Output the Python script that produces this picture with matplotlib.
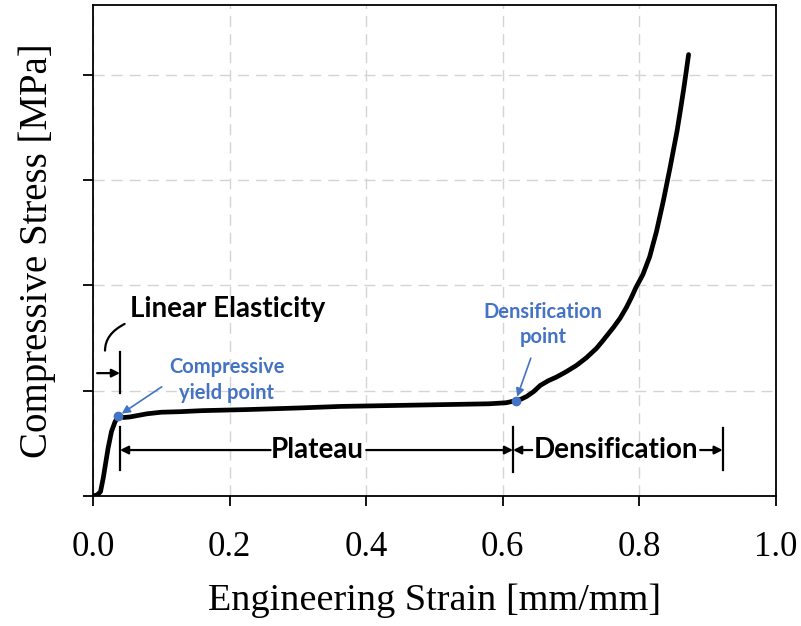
import matplotlib
matplotlib.use("Agg")
import matplotlib.pyplot as plt

# Stress-strain curve of a cellular material under compression
strain = [0.000, 0.006, 0.011, 0.015, 0.018, 0.022, 0.027, 0.032, 0.037, 0.045,
          0.054, 0.079, 0.100, 0.127, 0.160, 0.225, 0.300, 0.362, 0.450, 0.537,
          0.580, 0.605, 0.619, 0.627, 0.635, 0.645, 0.655, 0.667, 0.679, 0.693,
          0.708, 0.722, 0.737, 0.746, 0.762, 0.772, 0.781, 0.788, 0.795, 0.805,
          0.815, 0.825, 0.835, 0.845, 0.855, 0.860, 0.865, 0.869, 0.872]
stress = [0.00, 0.01, 0.04, 0.17, 0.29, 0.45, 0.61, 0.70, 0.76, 0.745,
          0.75, 0.78, 0.795, 0.80, 0.81, 0.82, 0.835, 0.85, 0.86, 0.87,
          0.875, 0.885, 0.905, 0.92, 0.945, 0.99, 1.05, 1.095, 1.13, 1.18,
          1.24, 1.31, 1.40, 1.47, 1.60, 1.69, 1.79, 1.88, 1.98, 2.10,
          2.27, 2.51, 2.80, 3.12, 3.46, 3.66, 3.87, 4.05, 4.19]

yield_pt = (0.037, 0.76)
dens_pt = (0.619, 0.905)

x_ticks = [0.0, 0.2, 0.4, 0.6, 0.8, 1.0]
x_tick_labels = ["0.0", "0.2", "0.4", "0.6", "0.8", "1.0"]
y_ticks = [0, 1, 2, 3, 4]

# region boundaries (strain)
elastic_end = 0.0395
plateau_end = 0.615
dens_end = 0.922

BLUE = "#4472C4"
SERIF = "Liberation Serif"
SANS = "Lato"

fig = plt.figure(figsize=(8.01, 6.26), dpi=100)
ax = fig.add_axes([0.1161, 0.2077, 0.8527, 0.7843])

ax.plot(strain, stress, color="black", lw=3.4, solid_capstyle="round",
        solid_joinstyle="round", zorder=3)

ax.set_xlim(0, 1.0)
ax.set_ylim(0, 4.66)
ax.set_xticks(x_ticks)
ax.set_xticklabels(x_tick_labels, fontfamily=SERIF, fontsize=25)
ax.set_yticks(y_ticks)
ax.set_yticklabels([])
ax.tick_params(axis="both", direction="out", length=7, width=1.3, color="black")
ax.tick_params(axis="x", pad=18)
for s in ax.spines.values():
    s.set_linewidth(1.3)

ax.grid(True, color="#d4d4d4", lw=1.0, linestyle=(0, (8, 5)), zorder=0)
ax.set_axisbelow(True)

ax.set_xlabel("Engineering Strain [mm/mm]", fontfamily=SERIF, fontsize=27.5, labelpad=14)
ax.set_ylabel("Compressive Stress [MPa]", fontfamily=SERIF, fontsize=28, labelpad=16)

# marked points
ax.plot(*yield_pt, "o", color=BLUE, ms=6, zorder=4)
ax.plot(*dens_pt, "o", color=BLUE, ms=6, zorder=4)

blue_arrow = dict(arrowstyle="-|>", color=BLUE, lw=1.2, mutation_scale=12,
                  shrinkA=0, shrinkB=3)
ax.annotate("", xy=yield_pt, xytext=(0.1006, 1.036), arrowprops=blue_arrow)
ax.text(0.1957, 1.223, "Compressive", color=BLUE, fontfamily=SANS,
        fontweight="bold", fontsize=14.5, ha="center", va="center")
ax.text(0.1957, 0.976, "yield point", color=BLUE, fontfamily=SANS,
        fontweight="bold", fontsize=14.5, ha="center", va="center")

ax.annotate("", xy=dens_pt, xytext=(0.641, 1.308), arrowprops=blue_arrow)
ax.text(0.659, 1.747, "Densification", color=BLUE, fontfamily=SANS,
        fontweight="bold", fontsize=14.5, ha="center", va="center")
ax.text(0.659, 1.507, "point", color=BLUE, fontfamily=SANS,
        fontweight="bold", fontsize=14.5, ha="center", va="center")

# region markers
bar_kw = dict(color="black", lw=1.6)
ax.plot([elastic_end, elastic_end], [0.976, 1.365], **bar_kw)
ax.plot([elastic_end, elastic_end], [0.25, 0.655], **bar_kw)
ax.plot([plateau_end, plateau_end], [0.23, 0.655], **bar_kw)
ax.plot([dens_end, dens_end], [0.245, 0.645], **bar_kw)

black_arrow = dict(arrowstyle="-|>", color="black", lw=1.6, mutation_scale=12,
                   shrinkA=0, shrinkB=0)
ax.annotate("", xy=(elastic_end, 1.166), xytext=(0.006, 1.166), arrowprops=black_arrow)

band_y = 0.436
ax.text(0.329, band_y, "Plateau", fontfamily=SANS, fontweight="bold",
        fontsize=20, ha="center", va="center")
ax.annotate("", xy=(elastic_end, band_y), xytext=(0.260, band_y), arrowprops=black_arrow)
ax.annotate("", xy=(plateau_end, band_y), xytext=(0.400, band_y), arrowprops=black_arrow)

ax.text(0.766, band_y, "Densification", fontfamily=SANS, fontweight="bold",
        fontsize=20, ha="center", va="center")
ax.annotate("", xy=(plateau_end, band_y), xytext=(0.643, band_y), arrowprops=black_arrow)
ax.annotate("", xy=(dens_end, band_y), xytext=(0.889, band_y), arrowprops=black_arrow)

# label for the elastic region with a curved leader
ax.annotate("Linear Elasticity", xy=(0.0176, 1.38), xytext=(0.054, 1.775),
            fontfamily=SANS, fontweight="bold", fontsize=20, ha="left", va="center",
            arrowprops=dict(arrowstyle="-", color="black", lw=1.6, shrinkA=2, shrinkB=0,
                            connectionstyle="angle3,angleA=0,angleB=90"))

fig.savefig("out.png", dpi=100)
